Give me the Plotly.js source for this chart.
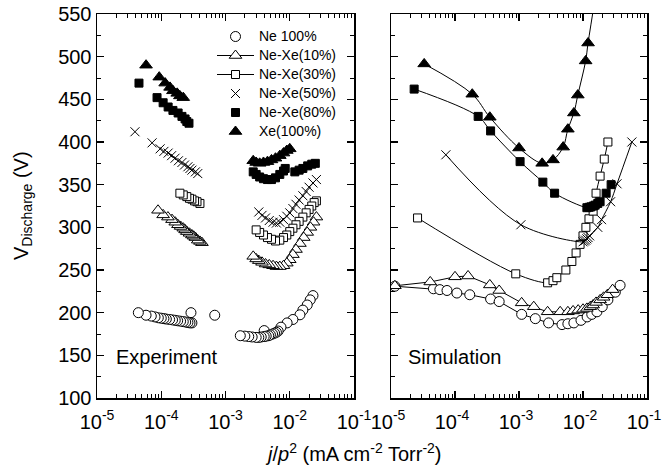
<!DOCTYPE html>
<html>
<head>
<meta charset="utf-8">
<script src="https://cdn.plot.ly/plotly-3.0.1.min.js"></script>
<style>html,body{margin:0;padding:0;background:#fff;}#chart{width:662px;height:469px;}</style>
</head>
<body>
<div id="chart"></div>
<script>
// ---------- Experiment data ----------
const expNeX = [4.4e-5,5.8e-5,7e-5,8e-5,9e-5,1.0e-4,1.1e-4,1.2e-4,1.35e-4,1.5e-4,1.65e-4,1.8e-4,2.0e-4,2.2e-4,2.4e-4,2.6e-4,2.8e-4,3.0e-4,2.9e-4,6.8e-4,
  1.7e-3,2.0e-3,2.3e-3,2.6e-3,3.0e-3,3.3e-3,3.6e-3,4.0e-3,4.3e-3,4.7e-3,5.0e-3,5.4e-3,5.8e-3,6.2e-3,6.6e-3,4.0e-3,7.3e-3,9.1e-3,1.12e-2,1.44e-2,1.6e-2,1.87e-2,2.08e-2,2.3e-2];
const expNeY = [200,197,196,195,194,193.5,193,192.5,192,191.5,191,190.5,190,189.5,189,188.5,188,188,200,197,
  173,172.5,172,171.5,171,171,171.5,172,172.5,173,174,175,176,177,178.5,179,183,188,192,197.5,203,209,215,220];

const expNe10X = [8.9e-5,1.07e-4,1.27e-4,1.47e-4,1.65e-4,1.82e-4,2.0e-4,2.2e-4,2.35e-4,2.5e-4,2.75e-4,3.0e-4,3.2e-4,3.4e-4,3.7e-4,4.0e-4,4.3e-4,
  2.7e-3,3.0e-3,3.3e-3,3.7e-3,4.2e-3,4.8e-3,5.5e-3,6.2e-3,7e-3,8e-3,9e-3,1.0e-2,1.12e-2,1.25e-2,1.44e-2,1.65e-2,1.87e-2,2.1e-2,2.35e-2,2.6e-2];
const expNe10Y = [320,314.6,312,309,306,303,301,299,297,295,293,291,289.5,288,285,283.5,282,
  266,263,261,259,257,256,255,254,254,255,258,262,268,274,281,288,294,300,306,312];

const expNe30X = [1.95e-4,2.2e-4,2.5e-4,2.75e-4,3.0e-4,3.3e-4,3.6e-4,4.0e-4,
  3.0e-3,3.4e-3,3.9e-3,4.5e-3,5.2e-3,6.0e-3,7.0e-3,8e-3,9e-3,1.0e-2,1.12e-2,1.25e-2,1.4e-2,1.6e-2,1.8e-2,2.0e-2,2.2e-2,2.4e-2,2.6e-2];
const expNe30Y = [340,338,336,334,333,331,330,328,
  297,294,291,288,286,284,285,288,291,295,299,303,307,312,317,321,325,329,331];

const expNe50X = [3.9e-5,7.2e-5,9.6e-5,1.1e-4,1.28e-4,1.45e-4,1.64e-4,1.85e-4,2.1e-4,2.3e-4,2.6e-4,2.8e-4,3.0e-4,3.4e-4,3.7e-4,
  3.3e-3,3.7e-3,4.2e-3,4.8e-3,5.5e-3,6.2e-3,7e-3,8e-3,9e-3,1.0e-2,1.12e-2,1.25e-2,1.4e-2,1.6e-2,1.8e-2,2.0e-2,2.3e-2,2.6e-2];
const expNe50Y = [412,399,392,389,387,384,381,378,376,373,371,369,367,365,363,
  318,314,311,308,306,305,306,309,313,317,322,327,332,337,342,347,352,356];

const expNe80X = [4.5e-5,8.6e-5,1.07e-4,1.28e-4,1.52e-4,1.83e-4,2.1e-4,2.35e-4,2.5e-4,2.7e-4,
  2.7e-3,3.0e-3,3.4e-3,3.9e-3,4.5e-3,5.2e-3,6e-3,7e-3,8e-3,8.5e-3,1.2e-2,1.4e-2,1.6e-2,1.9e-2,2.2e-2,2.5e-2];
const expNe80Y = [469,452,446,441,437,434,430,427,424,422,
  365,362,359,357,356,356,358,362,366,369,365,367,369,372,374,375];

const expXe100X = [5.8e-5,9.3e-5,1.15e-4,1.37e-4,1.52e-4,1.77e-4,1.95e-4,2.2e-4,
  2.7e-3,3.0e-3,3.4e-3,3.9e-3,4.5e-3,5.2e-3,6e-3,7e-3,8e-3,9e-3,1.0e-2];
const expXe100Y = [490,476,469,464,460,457,454,452,
  378,376,375,376,377,379,381,384,387,390,392];

// ---------- Simulation data ----------
const simNeX = [1.15e-5,4.6e-5,5.8e-5,7.5e-5,1.07e-4,1.7e-4,3.6e-4,4.9e-4,1.1e-3,1.8e-3,2.9e-3,4.7e-3,5.8e-3,7.2e-3,9.3e-3,1.16e-2,1.37e-2,1.65e-2,2.0e-2,2.45e-2,3.2e-2,3.8e-2];
const simNeY = [231,228,227,226,223,221,216,213,198,193,188,186,187,188,191,195,198,201,207,215,224,232];

const simNe10X = [1.15e-5,4.1e-5,1.0e-4,1.6e-4,3.5e-4,4.9e-4,1.1e-3,1.7e-3,2.8e-3,4.4e-3,5.8e-3,7e-3,8.4e-3,1.0e-2,1.15e-2,1.3e-2,1.44e-2,1.6e-2,1.85e-2,2.1e-2,2.4e-2,2.9e-2];
const simNe10Y = [231.5,236,242,243,232.5,226,211.5,207,201,201,201,202,203,204,205,207,209,212,215,218,221,227];

const simNe30X = [2.6e-5,8.9e-4,2.8e-3,3.4e-3,3.9e-3,5.4e-3,6.7e-3,7.8e-3,9.0e-3,1.0e-2,1.11e-2,1.24e-2,1.44e-2,1.6e-2,1.85e-2,2.15e-2,2.45e-2];
const simNe30Y = [311,245.5,235,237.5,241,250,260,270,280,290,300,310,319,340,360,380,400];

const simNe50X = [7.2e-5,1.07e-3,1.0e-2,1.05e-2,1.1e-2,1.15e-2,1.2e-2,1.27e-2,1.7e-2,1.95e-2,2.7e-2,3.4e-2,5.8e-2];
const simNe50Y = [385,303,283,284,285,286.5,288,290,300,309,330,351,400];

const simNe80X = [2.3e-5,2.3e-4,3.6e-4,1.04e-3,2.36e-3,3.6e-3,1.15e-2,1.25e-2,1.33e-2,1.45e-2,1.55e-2,1.7e-2,1.85e-2,2.3e-2,2.75e-2];
const simNe80Y = [462,430,413,377,353,340,323,323.5,324,325,326,328,330,340,350];

const simXe100X = [3.3e-5,1.86e-4,3.5e-4,1.0e-3,2.3e-3,3.4e-3,4.9e-3,5.8e-3,7.2e-3,8.3e-3,1.1e-2,1.2e-2];
const simXe100Y = [491.5,456,429,393,375,379,394,415,434,455,495,516];
// continuation of the fitted curve beyond the last point (runs off the top)
const simXe100TailX = [1.6e-2];
const simXe100TailY = [575];

const seriesNames = ['Ne 100%','Ne-Xe(10%)','Ne-Xe(30%)','Ne-Xe(50%)','Ne-Xe(80%)','Xe(100%)'];
const panelLabels = ['Experiment','Simulation'];
const yTickVals = [100,150,200,250,300,350,400,450,500,550];
const xTickVals = [1e-5,1e-4,1e-3,1e-2,1e-1];
const xTickText = ['10<sup>-5</sup>','10<sup>-4</sup>','10<sup>-3</sup>','10<sup>-2</sup>','10<sup>-1</sup>'];

// ---------- styles ----------
const FONT = 'Liberation Sans, Arial, Helvetica, sans-serif';
const mk = {
  ne:   {symbol:'circle', size:10, color:'white', line:{color:'black', width:1}},
  ne10: {symbol:'triangle-up', size:11, color:'white', line:{color:'black', width:1}},
  ne30: {symbol:'square', size:8, color:'white', line:{color:'black', width:1}},
  ne50: {symbol:'x-thin', size:9, color:'black', line:{color:'black', width:1}},
  ne80: {symbol:'square', size:8, color:'black', line:{color:'black', width:1}},
  xe:   {symbol:'triangle-up', size:11, color:'black', line:{color:'black', width:1}}
};
const rev = a => a.slice().reverse();
const legName = s => '<span style="font-size:14px">' + s + '</span>';

function expTrace(xs, ys, m, name, rank, show) {
  return {x: rev(xs), y: rev(ys), xaxis:'x', yaxis:'y', type:'scatter', mode:'markers',
    marker: m, name: legName(name), legendrank: rank, showlegend: show, cliponaxis:false};
}
function simTrace(xs, ys, m, name, rank, show, shape) {
  return {x: xs, y: ys, xaxis:'x2', yaxis:'y2', type:'scatter', mode:'lines+markers',
    line:{color:'black', width:1, shape: shape, smoothing: 1}, marker: m, name: legName(name),
    legendrank: rank, showlegend: show, cliponaxis:true};
}

const data = [
  expTrace(expNeX, expNeY, mk.ne, seriesNames[0], 1, true),
  expTrace(expNe10X, expNe10Y, mk.ne10, seriesNames[1], 2, false),
  expTrace(expNe30X, expNe30Y, mk.ne30, seriesNames[2], 3, false),
  expTrace(expNe50X, expNe50Y, mk.ne50, seriesNames[3], 4, true),
  expTrace(expNe80X, expNe80Y, mk.ne80, seriesNames[4], 5, true),
  expTrace(expXe100X, expXe100Y, mk.xe, seriesNames[5], 6, true),
  simTrace(simNeX, simNeY, mk.ne, seriesNames[0], 11, false, 'linear'),
  simTrace(simNe10X, simNe10Y, mk.ne10, seriesNames[1], 2, true, 'linear'),
  simTrace(simNe30X, simNe30Y, mk.ne30, seriesNames[2], 3, true, 'spline'),
  simTrace(simNe50X, simNe50Y, mk.ne50, seriesNames[3], 14, false, 'spline'),
  simTrace(simNe80X, simNe80Y, mk.ne80, seriesNames[4], 15, false, 'spline'),
  {x: simXe100X.concat(simXe100TailX), y: simXe100Y.concat(simXe100TailY), xaxis:'x2', yaxis:'y2',
   type:'scatter', mode:'lines', line:{color:'black', width:1, shape:'spline', smoothing:1},
   showlegend:false, hoverinfo:'skip'},
  {x: simXe100X, y: simXe100Y, xaxis:'x2', yaxis:'y2', type:'scatter', mode:'markers',
   marker: mk.xe, showlegend:false, name: seriesNames[5]}
];

// minor log ticks
const minorLog = [];
for (let e = -5; e < -1; e++) for (let k = 2; k <= 9; k++) minorLog.push(k * Math.pow(10, e));

const xCommon = {
  type:'log', range:[-5,-1], tickmode:'array', tickvals:xTickVals, ticktext:xTickText,
  ticks:'inside', ticklen:7, tickwidth:1.3, tickcolor:'black', showline:true, linecolor:'black', linewidth:1.5,
  mirror:'allticks', showgrid:false, zeroline:false, ticklabelstandoff:5, ticklabeloverflow:'allow',
  tickfont:{family:FONT, size:20, color:'black'},
  minor:{tickmode:'array', tickvals:minorLog, ticks:'inside', ticklen:4, tickwidth:1, tickcolor:'black', showgrid:false}
};
const yCommon = {
  range:[100,550], tickvals:yTickVals, ticks:'inside', ticklen:7, tickwidth:1.3, tickcolor:'black',
  showline:true, linecolor:'black', linewidth:1.5, mirror:'allticks', showgrid:false, zeroline:false,
  tickfont:{family:FONT, size:20, color:'black'},
  minor:{dtick:25, ticks:'inside', ticklen:4, tickwidth:1, tickcolor:'black', showgrid:false}
};

const W = 662, H = 469, ML = 97, MR = 15, MT = 14, MB = 71;
const pw = W - ML - MR, ph = H - MT - MB;
const px = v => (v - ML) / pw;
const py = v => 1 - (v - MT) / ph;

const layout = {
  width: W, height: H,
  margin:{l:ML, r:MR, t:MT, b:MB, pad:0},
  paper_bgcolor:'white', plot_bgcolor:'white',
  font:{family:FONT, color:'black'},
  xaxis: Object.assign({}, xCommon, {domain:[0, px(354)], anchor:'y'}),
  xaxis2: Object.assign({}, xCommon, {domain:[px(391), 1], anchor:'y2', ticklabelshift:-3}),
  yaxis: Object.assign({}, yCommon, {anchor:'x'}),
  yaxis2: Object.assign({}, yCommon, {anchor:'x2', showticklabels:false}),
  showlegend:true,
  legend:{x:px(212), y:py(22), xanchor:'left', yanchor:'top', bgcolor:'rgba(0,0,0,0)',
    font:{family:FONT, size:11.5, color:'black'}, tracegroupgap:0, itemwidth:37, traceorder:'normal'},
  annotations:[
    {text:panelLabels[0], xref:'paper', yref:'paper', x:px(114), y:py(357), xanchor:'left', yanchor:'middle',
     showarrow:false, font:{family:FONT, size:20, color:'black'}},
    {text:panelLabels[1], xref:'paper', yref:'paper', x:px(406), y:py(357), xanchor:'left', yanchor:'middle',
     showarrow:false, font:{family:FONT, size:20, color:'black'}},
    {text:'V<sub>Discharge</sub> (V)', xref:'paper', yref:'paper', x:px(22), y:0.5, textangle:-90,
     xanchor:'center', yanchor:'middle', showarrow:false, font:{family:FONT, size:20, color:'black'}},
    {text:'<i>j</i>/<i>p</i><sup>2</sup> (mA cm<sup>-2</sup> Torr<sup>-2</sup>)', xref:'paper', yref:'paper',
     x:px(353), y:py(452), xanchor:'center', yanchor:'middle', showarrow:false,
     font:{family:FONT, size:20, color:'black'}}
  ]
};

Plotly.newPlot('chart', data, layout, {displayModeBar:false, staticPlot:true});
</script>
</body>
</html>
